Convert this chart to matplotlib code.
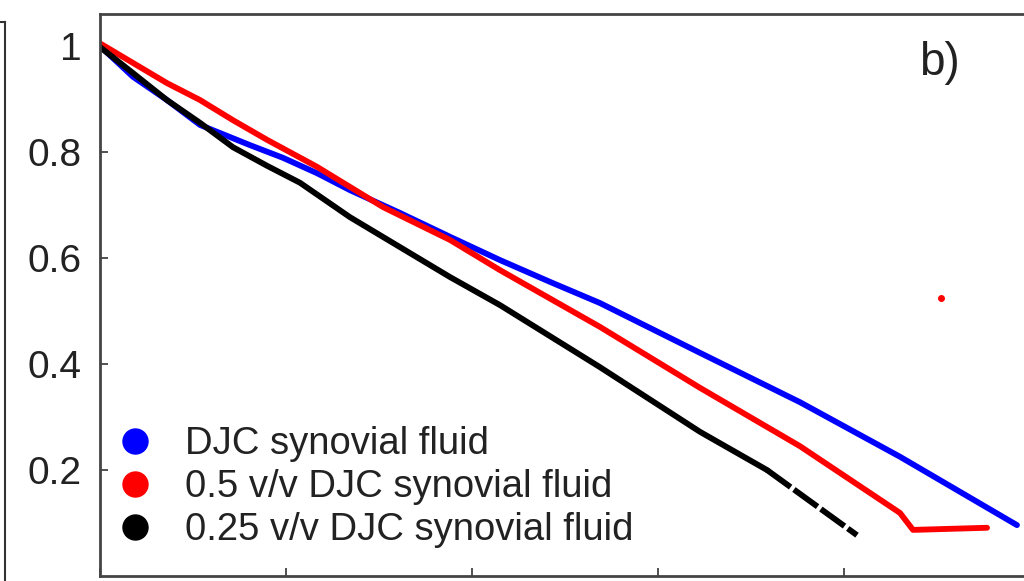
import matplotlib
matplotlib.use("Agg")
import matplotlib.pyplot as plt
from matplotlib.lines import Line2D

plt.rcParams['font.family'] = ['Liberation Sans', 'DejaVu Sans']

# values (x in tick units)
blue_x = [0.0, 0.177, 0.360, 0.538, 0.806, 0.984, 1.167, 1.344, 1.613, 1.882, 2.151, 2.419, 2.688, 3.226, 3.763, 4.301, 4.930]
blue_y = [1.0, 0.942, 0.898, 0.851, 0.813, 0.789, 0.760, 0.728, 0.685, 0.640, 0.596, 0.555, 0.515, 0.421, 0.328, 0.225, 0.096]

red_x = [0.0, 0.360, 0.538, 0.715, 0.898, 1.167, 1.522, 1.882, 2.151, 2.688, 3.226, 3.763, 4.301, 4.371, 4.570, 4.769]
red_y = [1.005, 0.930, 0.898, 0.860, 0.823, 0.772, 0.696, 0.634, 0.577, 0.470, 0.355, 0.245, 0.119, 0.087, 0.089, 0.091]
red_outlier_x = [4.522]
red_outlier_y = [0.525]

black_x = [0.0, 0.177, 0.360, 0.538, 0.715, 0.898, 1.075, 1.344, 1.882, 2.151, 2.688, 3.226, 3.586]
black_y = [0.998, 0.949, 0.898, 0.855, 0.809, 0.774, 0.742, 0.677, 0.564, 0.511, 0.394, 0.272, 0.200]
black_tail_x = [3.586, 4.070]
black_tail_y = [0.200, 0.077]

labels = ['DJC synovial fluid', '0.5 v/v DJC synovial fluid', '0.25 v/v DJC synovial fluid']
colors = ['#0000ff', '#ff0000', '#000000']
y_ticks = [0.2, 0.4, 0.6, 0.8, 1.0]
y_tick_labels = ['0.2', '0.4', '0.6', '0.8', '1']
x_ticks = [0, 1, 2, 3, 4]

W, H = 1024, 581
fig = plt.figure(figsize=(W / 100, H / 100), dpi=100)

# frame of neighbouring panel (only its top-right corner shows)
ax0 = fig.add_axes([-0.2, -0.1, 0.2 + 5 / W, 1.1 - 22 / H])
ax0.set_xticks([])
ax0.set_yticks([])
for s in ax0.spines.values():
    s.set_color('#333333')
    s.set_linewidth(1.5)

xmax = 5.2
ax = fig.add_axes([100 / W, 5 / H, xmax * 186 / W, (576 - 14) / H])
ax.set_xlim(0, xmax)
ax.set_ylim(0, 562 / 530)

line_kw = dict(lw=4.2, solid_capstyle='round', solid_joinstyle='round')
ax.plot(blue_x, blue_y, color=colors[0], **line_kw)
ax.plot(red_x, red_y, color=colors[1], **line_kw)
ax.plot(red_outlier_x, red_outlier_y, 'o', color=colors[1], ms=4)
ax.plot(black_x, black_y, color=colors[2], **line_kw)
ax.plot(black_tail_x, black_tail_y, color=colors[2], lw=4.2, ls=(0, (5, 0.7)))

ax.set_yticks(y_ticks)
ax.set_yticklabels(y_tick_labels)
ax.set_xticks(x_ticks)
ax.set_xticklabels([])
ax.tick_params(direction='in', length=6, width=1.2, color='#333333',
               labelsize=28, labelcolor='#222222', pad=13)
ax.spines['right'].set_visible(False)
for s in ['left', 'top', 'bottom']:
    ax.spines[s].set_color('#444444')
    ax.spines[s].set_linewidth(2)

handles = [Line2D([], [], marker='o', ls='', color=c, ms=18) for c in colors]
ax.legend(handles, labels, loc='upper left', bbox_to_anchor=(0.005, 0.287),
          frameon=False, fontsize=27.5, labelspacing=0.18, handlelength=1.0,
          handletextpad=0.8, borderpad=0.3, borderaxespad=0.0, labelcolor='#222222')

ax.text(0.868, 0.912, 'b)', transform=ax.transAxes, fontsize=33, color='#222222',
        ha='center', va='center')

fig.savefig('out.png', dpi=100)
